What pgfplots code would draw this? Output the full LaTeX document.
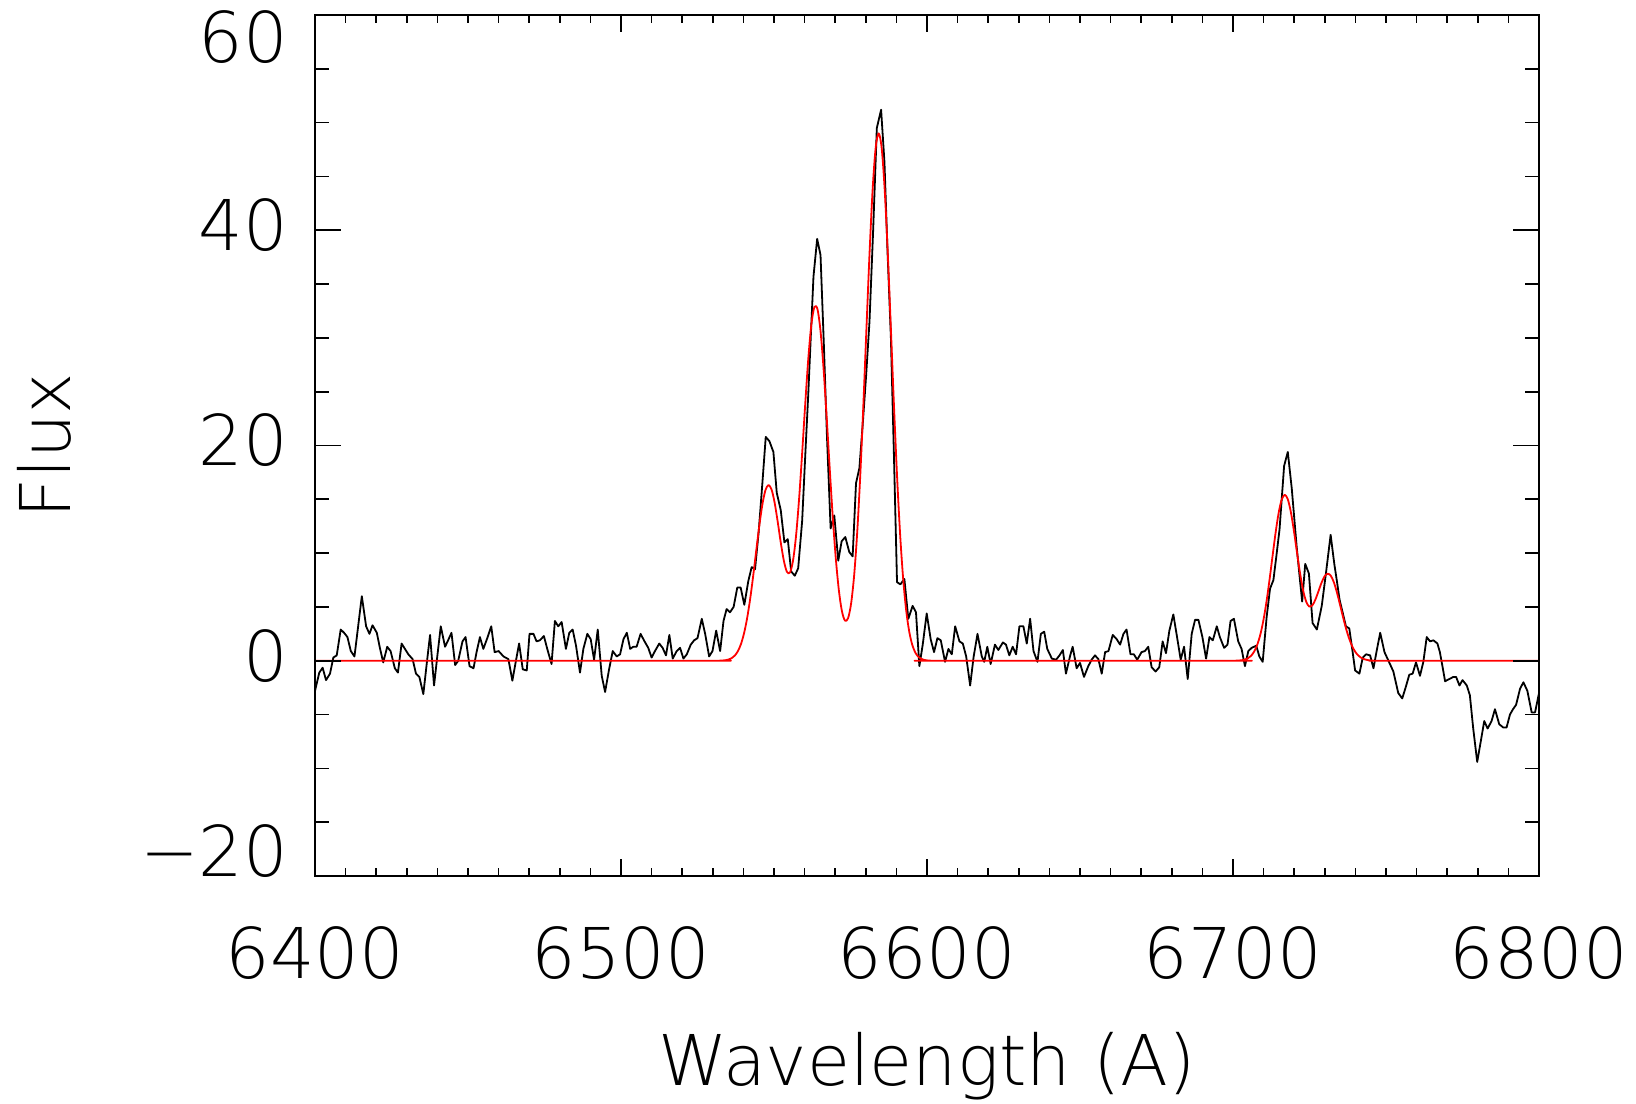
\documentclass[border=0pt]{standalone}
\usepackage{pgfplots}
\pgfplotsset{compat=1.18}
\usepackage{fontspec}
\setmainfont{DejaVu Sans ExtraLight}
\newcommand{\lblfont}{\fontsize{17.5pt}{21pt}\selectfont}

\pgfplotstableread{
x y
6400.0 -2.8
6401.4 -1.1
6402.5 -0.65
6403.6 -1.8
6404.9 -1.2
6406.0 0.3
6407.1 0.5
6408.4 2.9
6409.5 2.6
6410.6 2.2
6411.7 0.9
6412.9 0.4
6415.3 6.0
6416.7 3.2
6417.8 2.5
6418.8 3.3
6420.2 2.6
6421.2 1.2
6422.3 -0.15
6423.6 1.3
6424.7 0.9
6426.1 -0.7
6427.1 -1.1
6428.3 1.6
6429.4 1.1
6430.5 0.6
6431.9 0.15
6433.0 -1.2
6434.1 -1.5
6435.4 -3.1
6436.5 -0.3
6437.6 2.4
6438.9 -2.3
6440.0 0.5
6441.1 3.2
6442.5 1.3
6443.5 1.9
6444.6 2.6
6445.8 -0.4
6446.8 0
6448.2 1.8
6449.2 2.2
6450.5 -0.5
6451.8 -0.7
6452.8 0.8
6453.9 2.2
6455.0 1.1
6456.3 2.1
6457.6 3.2
6458.7 0.8
6460.0 0.9
6461.6 0.4
6463.2 0.15
6464.5 -1.85
6465.6 -0.1
6466.7 1.6
6467.9 -0.8
6469.2 -0.9
6470.1 2.5
6471.4 2.5
6472.4 1.8
6473.5 1.9
6474.8 2.3
6475.9 1.1
6477.3 -0.3
6478.4 3.7
6479.5 3.2
6480.6 3.6
6482.0 1.1
6483.1 2.6
6484.2 2.9
6485.3 1.4
6486.6 -1.1
6487.7 1.1
6489.0 2.5
6490.1 2.0
6491.2 0.1
6492.4 2.9
6493.7 -1.4
6494.8 -2.9
6496.1 -0.8
6497.3 0.9
6498.6 0.4
6499.7 0.6
6500.8 2.0
6501.9 2.6
6503.0 1.1
6504.0 1.3
6505.1 1.3
6506.4 2.5
6507.5 1.9
6508.9 1.2
6510.0 0.3
6511.1 0.9
6512.5 1.6
6513.6 1.2
6514.7 0.5
6515.8 2.4
6516.9 0.2
6518.2 0.9
6519.3 1.2
6520.4 0.2
6521.5 0.6
6522.8 1.5
6523.9 1.9
6525.0 2.1
6526.4 3.9
6527.5 2.5
6528.8 0.4
6529.9 0.9
6531.1 2.8
6532.4 0.9
6533.5 3.7
6534.5 4.8
6535.6 4.5
6536.8 5.0
6538.0 6.8
6539.1 6.8
6540.3 5.2
6541.6 7.4
6542.7 8.7
6543.8 8.5
6545.0 12.0
6546.2 16.5
6547.3 20.8
6548.5 20.4
6549.8 19.4
6550.9 15.6
6552.2 14.0
6553.4 11.0
6554.5 11.3
6555.6 8.3
6556.8 7.9
6557.9 8.6
6559.2 13.0
6560.2 19.0
6561.2 24.8
6562.0 30.0
6562.9 35.7
6564.1 39.2
6565.2 37.7
6566.3 29.3
6567.3 20.9
6568.5 12.3
6569.7 13.5
6571.0 9.3
6572.1 11.1
6573.3 11.5
6574.6 10.1
6575.7 9.7
6576.8 16.5
6577.9 17.9
6579.0 22.0
6580.1 26.5
6581.2 31.5
6582.4 40.0
6583.6 49.5
6585.0 51.2
6586.1 46.3
6587.1 38.0
6588.2 30.0
6589.2 19.0
6590.2 7.3
6591.3 7.1
6592.6 7.6
6593.9 3.9
6595.3 5.1
6596.4 4.5
6597.5 -0.5
6598.6 1.5
6599.9 4.4
6601.2 2.0
6602.3 0.8
6603.4 2.1
6604.5 1.9
6605.9 -0.1
6607.0 1.1
6608.1 0.6
6609.2 3.2
6610.6 1.8
6611.7 1.6
6612.8 0.4
6614.1 -2.3
6615.2 0.3
6616.5 2.5
6617.9 0.4
6618.7 -0.1
6619.7 1.3
6620.8 -0.3
6622.2 1.5
6623.3 1.0
6624.8 1.7
6625.8 1.5
6626.9 0.5
6628.0 1.3
6629.1 0.6
6630.2 3.2
6631.5 3.2
6632.6 1.6
6633.7 3.9
6634.8 0.9
6636.1 -0.1
6637.2 2.5
6638.3 2.7
6639.3 1.1
6640.8 0.2
6642.2 0.1
6643.3 0.5
6644.4 1.0
6645.4 -1.2
6646.8 0.5
6647.6 1.3
6648.9 -0.7
6650.0 -0.2
6651.3 -1.5
6652.7 -0.5
6653.8 0.1
6654.9 0.5
6656.0 0.15
6657.1 -1.2
6658.2 0.8
6659.3 0.9
6660.7 2.4
6662.0 2.0
6663.1 1.5
6664.2 2.5
6665.2 2.9
6666.5 0.6
6667.6 0.6
6668.7 0.1
6670.1 0.8
6671.2 0.9
6672.3 1.3
6673.4 -0.6
6674.7 -1.0
6675.9 -0.6
6677.0 1.8
6678.1 0.7
6679.2 2.8
6680.5 4.3
6681.6 2.4
6682.9 0.1
6684.0 1.3
6685.2 -1.7
6686.5 2.5
6687.6 3.8
6688.7 3.8
6690.0 2.2
6691.2 0.2
6692.3 2.2
6693.4 1.9
6694.7 3.2
6695.7 2.2
6697.1 1.2
6698.2 1.5
6699.2 3.7
6700.3 3.9
6701.7 1.8
6702.8 1.1
6703.9 -0.5
6705.0 0.9
6706.1 1.2
6707.6 1.4
6708.6 0.4
6709.7 -0.1
6711.0 4.1
6712.1 6.7
6713.2 7.5
6714.2 9.8
6715.2 12.2
6716.7 18.1
6717.9 19.4
6719.2 16.0
6720.0 13.3
6720.8 10.6
6721.7 8.0
6722.6 5.5
6723.6 9.0
6724.8 8.1
6726.0 3.5
6727.4 2.9
6729.0 5.1
6730.4 8.2
6731.9 11.7
6733.1 9.0
6734.0 7.3
6734.8 5.7
6735.9 4.4
6736.9 3.2
6738.0 3.0
6739.0 1.0
6739.9 -0.9
6741.3 -1.2
6742.4 0.3
6743.5 0.6
6744.8 0.5
6745.9 -0.7
6747.0 1.0
6748.1 2.6
6749.5 0.8
6750.8 0
6752.4 -1.0
6754.0 -3.0
6755.3 -3.5
6756.5 -2.4
6757.6 -1.3
6758.7 -1.2
6759.8 -0.15
6761.1 -1.4
6762.2 -0.1
6763.3 2.2
6764.4 1.8
6765.5 1.9
6766.8 1.6
6767.6 0.8
6768.5 -0.6
6769.3 -1.9
6770.7 -1.7
6772.0 -1.5
6772.9 -1.5
6774.0 -2.3
6775.0 -1.8
6776.4 -2.3
6777.4 -3.2
6778.5 -6.3
6779.8 -9.4
6780.9 -7.6
6782.1 -5.6
6783.2 -6.3
6784.5 -5.6
6785.6 -4.5
6787.0 -5.9
6788.3 -6.2
6789.4 -6.2
6790.5 -5.0
6791.5 -4.5
6792.5 -4.1
6793.8 -2.6
6794.9 -2.0
6796.2 -2.8
6797.6 -4.8
6798.7 -4.8
6800.0 -3.0
}\spectrum

\pgfplotstableread{
x y
6400 0
6527.2 0
6530.2 0.001
6532.2 0.01
6533.2 0.024
6534.2 0.055
6535.2 0.121
6536.2 0.249
6537.2 0.486
6538.2 0.895
6539.2 1.552
6540.2 2.543
6541.2 3.930
6542.2 5.733
6543.2 7.889
6544.2 10.24
6545.2 12.55
6546.2 14.52
6547.2 15.85
6548.2 16.33
6549.2 15.91
6550.2 14.69
6551.2 12.93
6552.2 11.00
6553.2 9.32
6554.2 8.27
6555.2 8.19
6556.2 9.28
6557.2 11.60
6558.2 15.05
6559.2 19.30
6560.2 23.84
6561.2 28.04
6562.2 31.23
6563.2 32.87
6564.2 32.67
6565.2 30.64
6566.2 27.12
6567.2 22.67
6568.2 17.89
6569.2 13.35
6570.2 9.49
6571.2 6.53
6572.2 4.60
6573.2 3.73
6574.2 3.95
6575.2 5.33
6576.2 7.97
6577.2 11.97
6578.2 17.30
6579.2 23.75
6580.2 30.81
6581.2 37.73
6582.2 43.63
6583.2 47.60
6584.2 49.00
6585.2 47.60
6586.2 43.63
6587.2 37.73
6588.2 30.80
6589.2 23.72
6590.2 17.23
6591.2 11.81
6592.2 7.64
6593.2 4.67
6594.2 2.69
6595.2 1.46
6596.2 0.75
6597.2 0.36
6598.2 0.17
6599.2 0.07
6600.2 0.03
6601.2 0.01
6602.2 0
6699.9 0
6700.9 0.01
6701.9 0.022
6702.9 0.052
6703.9 0.114
6704.9 0.236
6705.9 0.459
6706.9 0.845
6707.9 1.466
6708.9 2.402
6709.9 3.713
6710.9 5.416
6711.9 7.454
6712.9 9.68
6713.9 11.86
6714.9 13.72
6715.9 14.97
6716.9 15.42
6717.9 15.01
6718.9 13.82
6719.9 12.07
6720.9 10.07
6721.9 8.14
6722.9 6.56
6723.9 5.50
6724.9 5.04
6725.9 5.14
6726.9 5.67
6727.9 6.44
6728.9 7.23
6729.9 7.84
6730.9 8.09
6731.9 7.92
6732.9 7.34
6733.9 6.41
6734.9 5.29
6735.9 4.12
6736.9 3.03
6737.9 2.10
6738.9 1.38
6739.9 0.85
6740.9 0.50
6741.9 0.27
6742.9 0.14
6743.9 0.07
6744.9 0.03
6745.9 0.01
6746.9 0.006
6747.9 0
6800 0
}\fitcurve

\begin{document}
\begin{tikzpicture}
\begin{axis}[
  name=ax,
  scale only axis, width=306pt, height=215.25pt,
  xmin=6400, xmax=6800, ymin=-20, ymax=60,
  xtick={6400,6500,6600,6700,6800},
  xticklabels={6400,6500,6600,6700,6800},
  minor x tick num=9,
  ytick=\empty,
  major tick length=4.25pt, minor tick length=2pt,
  tick align=inside,
  axis line style={line width=0.42pt},
  every tick/.style={black, line width=0.42pt},
  xticklabel style={anchor=north, inner sep=0pt, yshift=-12.4pt, font=\lblfont},
  xlabel={Wavelength (A)},
  xlabel style={at={([yshift=-52.25pt]axis description cs:0.5,0)}, anchor=base, inner sep=0pt, font=\lblfont},
]
\addplot[black, line width=0.45pt, line join=round] table[x=x, y=y] {\spectrum};
\addplot[red, line width=0.45pt, line join=round, smooth] table[x=x, y=y] {\fitcurve};
\end{axis}
\begin{axis}[
  scale only axis, width=306pt, height=215.25pt,
  xmin=6400, xmax=6800, ymin=-20, ymax=60,
  xtick=\empty,
  ytick={-20,0,20,40,60},
  yticklabels={{\raisebox{-1.3pt}[0pt][0pt]{−20}},0,20,40,{\raisebox{-13.2pt}[0pt][0pt]{60}}},
  minor y tick num=3,
  major tick length=6.5pt, minor tick length=3.5pt,
  tick align=inside,
  axis line style={line width=0.42pt},
  every tick/.style={black, line width=0.42pt},
  yticklabel style={anchor=east, inner sep=0pt, xshift=-6.6pt, yshift=1.3pt, font=\lblfont},
  ylabel={Flux},
  ylabel style={at={([xshift=-61pt]axis description cs:0,0.5)}, anchor=base, inner sep=0pt, font=\lblfont},
]
\end{axis}
\path ([xshift=-78.75pt,yshift=-56.75pt]ax.south west) rectangle ([xshift=24.25pt,yshift=3.75pt]ax.north east);
\end{tikzpicture}
\end{document}
